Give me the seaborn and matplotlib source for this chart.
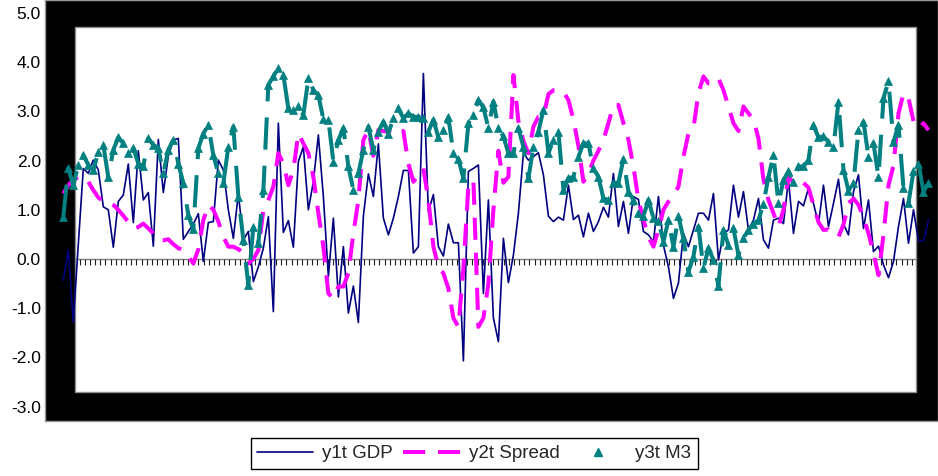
import numpy as np
import pandas as pd
import matplotlib
matplotlib.use("Agg")
import matplotlib.pyplot as plt
import matplotlib.transforms as mtransforms
from matplotlib.patches import Rectangle
from matplotlib.lines import Line2D
from matplotlib.ticker import FormatStrFormatter
import seaborn as sns

# ---- series values (one per period) ----
gdp = [-0.43, 0.18, -1.29, 0.3, 1.84, 1.74, 2.01, 1.81, 1.06, 1.0,
       0.24, 1.17, 1.30, 1.93, 0.74, 2.2, 1.2, 1.35, 0.26, 2.43,
       1.35, 2.09, 2.42, 2.45, 0.4, 0.56, 0.71, 0.92, -0.05, 0.74,
       0.76, 2.01, 1.81, 1.0, 0.42, 1.33, 0.39, 0.56, -0.46, -0.16,
       0.22, 0.86, -1.07, 2.76, 0.54, 0.78, 0.24, 1.98, 2.28, 1.0,
       1.57, 2.52, 1.27, -0.36, 0.83, -0.77, 0.25, -1.1, -0.55, -1.29,
       0.87, 1.73, 1.27, 2.34, 0.83, 0.49, 0.83, 1.27, 1.8, 1.8,
       0.12, 0.25, 3.77, 0.96, 1.31, 0.25, 0.06, 0.71, 0.33, 0.33,
       -2.07, 1.78, 1.84, 1.91, -0.7, 1.2, -1.2, -1.68, 0.42, -0.48,
       0.08, 0.93, 2.15, 2.01, 2.08, 2.16, 1.71, 0.87, 0.76, 0.85,
       0.79, 1.5, 0.8, 0.89, 0.45, 0.93, 0.56, 0.76, 1.05, 0.85,
       1.74, 0.66, 1.17, 0.52, 1.27, 1.21, 0.56, 0.49, 0.35, 1.27,
       0.28, -0.16, -0.8, -0.49, 0.52, 0.25, 0.59, 0.93, 0.93, 0.79,
       1.33, -0.02, 0.52, 0.59, 1.5, 0.85, 1.37, 0.59, 0.79, 1.23,
       0.39, 0.22, 0.79, 0.83, 0.72, 1.61, 0.52, 1.17, 1.08, 1.44,
       1.13, 0.71, 1.5, 0.66, 1.13, 1.62, 0.71, 0.49, 1.37, 1.71,
       0.62, 1.2, 0.15, 0.26, -0.12, -0.38, -0.05, 0.66, 1.23, 0.32,
       1.0, 0.37, 0.37, 0.79]

spread = [1.33, 1.5, 1.6, 1.67, 1.67, 1.57, 1.4, 1.25, 1.17, 1.17,
          1.1, 1.0, 0.88, 0.75, 0.62, 0.65, 0.72, 0.62, 0.52, 0.38,
          0.38, 0.4, 0.3, 0.22, 0.18, 0.05, -0.09, 0.2, 0.79, 1.1,
          1.0, 0.76, 0.45, 0.25, 0.25, 0.2, 0.12, -0.09, 0.0, 0.18,
          1.0, 1.2, 1.47, 2.15, 1.94, 1.5, 1.81, 2.55, 2.35, 2.15,
          1.67, 0.93, 0.25, -0.7, -0.8, -0.56, -0.56, -0.29, 0.52, 1.2,
          2.42, 2.62, 2.1, 2.62, 2.6, 2.59, 2.52, 2.59, 2.6, 1.94,
          1.57, 1.7, 1.84, 1.2, 0.25, -0.16, -0.29, -0.6, -1.2, -1.38,
          -0.2, 1.5, 1.6, -1.38, -1.2, -0.5, 1.0, 2.2, 1.55, 1.67,
          3.74, 2.8, 2.4, 2.15, 2.69, 2.89, 2.9, 3.35, 3.43, 3.43,
          3.4, 3.23, 2.83, 2.3, 1.57, 1.74, 2.0, 2.2, 2.42, 2.76,
          3.13, 3.13, 2.76, 2.42, 1.88, 1.2, 0.79, 0.45, 0.25, 0.59,
          1.0, 1.17, 1.3, 1.47, 2.08, 2.55, 2.66, 3.37, 3.71, 3.57,
          3.57, 3.67, 3.43, 3.1, 2.76, 2.6, 3.1, 2.96, 2.83, 2.45,
          1.61, 1.2, 0.93, 0.66, 1.0, 1.67, 1.55, 1.44, 1.55, 1.45,
          1.1, 0.75, 0.59, 0.6, 0.5, 0.45, 0.7, 1.13, 1.23, 1.1,
          0.85, 0.52, 0.12, -0.33, 0.49, 1.5, 1.9, 2.96, 3.37, 3.27,
          2.8, 2.66, 2.76, 2.62]

m3 = [0.86, 1.84, 1.5, 1.91, 2.11, 1.91, 1.8, 2.18, 2.32, 1.66,
      2.22, 2.47, 2.35, 2.15, 2.25, 1.94, 1.88, 2.45, 2.32, 2.25,
      1.74, 2.22, 2.42, 1.94, 1.54, 0.89, 0.6, 2.25, 2.55, 2.72,
      2.11, 1.74, 1.54, 2.28, 2.69, 1.27, 0.39, -0.53, 0.66, 0.32,
      1.4, 3.54, 3.71, 3.88, 3.74, 3.06, 3.03, 3.1, 2.93, 3.67,
      3.43, 3.33, 2.84, 2.83, 1.98, 2.42, 2.66, 1.88, 1.4, 1.74,
      2.22, 2.69, 2.22, 2.59, 2.79, 2.55, 2.86, 3.06, 2.86, 2.96,
      2.89, 2.89, 2.86, 2.59, 2.83, 2.47, 2.62, 2.88, 2.15, 2.03,
      1.64, 2.76, 2.93, 3.23, 3.08, 2.66, 3.2, 2.66, 2.49, 2.15,
      2.15, 2.66, 2.28, 1.64, 2.28, 2.59, 3.03, 2.15, 2.42, 2.59,
      1.4, 1.64, 1.67, 2.08, 2.35, 2.35, 1.84, 1.67, 1.23, 1.2,
      1.55, 1.55, 2.03, 1.37, 1.2, 0.93, 0.87, 1.2, 0.83, 0.78,
      0.35, 0.79, 0.25, 0.87, 0.42, -0.26, 0.05, 0.66, -0.19, 0.22,
      -0.02, -0.55, 0.59, 0.28, 0.62, 0.08, 0.42, 0.59, 0.71, 0.79,
      1.12, 1.67, 2.11, 1.13, 1.6, 1.78, 1.57, 1.88, 1.88, 2.01,
      2.72, 2.47, 2.49, 2.38, 2.28, 3.2, 1.81, 1.39, 1.54, 2.62,
      2.79, 2.08, 2.35, 1.67, 3.27, 3.61, 2.38, 2.72, 1.44, 1.14,
      1.78, 1.94, 1.37, 1.55]

y_ticks = [-3, -2, -1, 0, 1, 2, 3, 4, 5]
labels = ["y1t GDP", "y2t Spread", "y3t M3"]

df = pd.DataFrame({"t": np.arange(len(gdp)), "gdp": gdp,
                   "spread": spread, "m3": m3})

NAVY = "#000080"
MAGENTA = "#FF00FF"
TEAL = "#008080"

sns.set_theme(style="white")
plt.rcParams["font.family"] = ["Liberation Sans", "DejaVu Sans"]
plt.rcParams["axes.unicode_minus"] = False

W, H = 938, 476
fig = plt.figure(figsize=(W / 100, H / 100), dpi=100)
fig.patch.set_facecolor("white")

# chart frame: black outer area with a white plotting panel inside
ax = fig.add_axes([45 / W, (H - 421) / H, (W - 45) / W, 421 / H])
ax.set_facecolor("black")
for s in ax.spines.values():
    s.set_color("#9a9a9a")
    s.set_linewidth(1)

ax.add_patch(Rectangle((30 / 893, 29 / 421), 841 / 893, 365 / 421,
                       transform=ax.transAxes, facecolor="white",
                       edgecolor="#8c8c8c", linewidth=1, zorder=0.5))

# zero axis with small category ticks
blend = mtransforms.blended_transform_factory(ax.transAxes, ax.transData)
ax.plot([30 / 893, 871 / 893], [0, 0], color="#808080", lw=1,
        transform=blend, zorder=1)
tick_x = np.linspace(34.5 / 893, 867 / 893, 162)
ax.vlines(tick_x, -0.125, 0, colors="#202020", lw=0.8,
          transform=blend, zorder=1)

# series
sns.lineplot(data=df, x="t", y="gdp", ax=ax, color=NAVY, linewidth=1.2,
             errorbar=None, zorder=3)
sns.lineplot(data=df, x="t", y="spread", ax=ax, color=MAGENTA,
             linewidth=2.9, linestyle=(0, (5.5, 3.2)), errorbar=None,
             zorder=4)
sns.lineplot(data=df, x="t", y="m3", ax=ax, color=TEAL, linewidth=2.9,
             linestyle=(0, (8, 4)), marker="^", markersize=6,
             markeredgecolor=TEAL, markerfacecolor=TEAL,
             markeredgewidth=0.5, errorbar=None, zorder=5)

ax.set_xlim(-3.66, 174.9)
ax.set_ylim(-3.293, 5.264)
ax.set_xticks([])
ax.set_yticks(y_ticks)
ax.yaxis.set_major_formatter(FormatStrFormatter("%.1f"))
ax.tick_params(axis="y", length=0, pad=3, labelsize=12.5,
               labelcolor="black")
ax.set_xlabel("")
ax.set_ylabel("")
if ax.get_legend() is not None:
    ax.get_legend().remove()

handles = [
    Line2D([], [], color=NAVY, lw=1.2),
    Line2D([], [], color=MAGENTA, lw=2.9, linestyle=(0, (5.5, 3.2))),
    Line2D([], [], color=TEAL, lw=0, marker="^", markersize=6,
           markeredgecolor=TEAL, markerfacecolor=TEAL),
]
leg = fig.legend(handles, labels, loc="center",
                 bbox_to_anchor=(474 / W, 1 - 453.5 / H), ncol=3,
                 fontsize=13.5, frameon=True, fancybox=False,
                 edgecolor="black", framealpha=1, handlelength=3.0,
                 handletextpad=0.48, columnspacing=0.55, borderpad=0.35,
                 borderaxespad=0)
leg.get_frame().set_linewidth(1)

fig.savefig("out.png", dpi=100, facecolor="white")
